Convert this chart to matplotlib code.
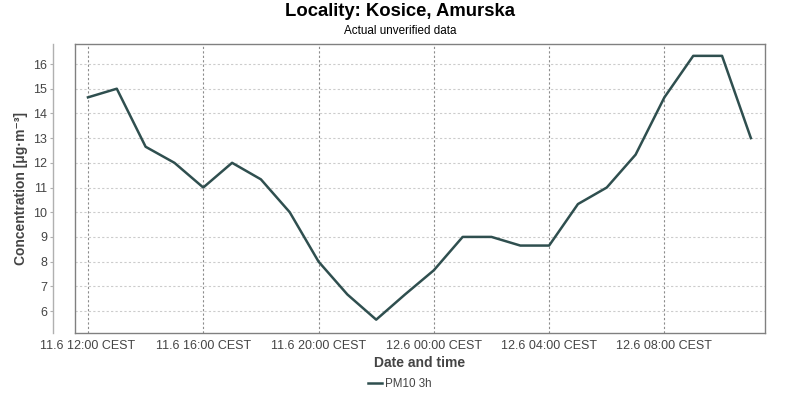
import matplotlib.pyplot as plt
from matplotlib.lines import Line2D

plt.rcParams["font.family"] = ["Liberation Sans", "DejaVu Sans"]

# hours after 11.6 12:00 CEST
hours = list(range(24))
pm10 = [14.65, 15.0, 12.65, 12.0, 11.0, 12.0, 11.33, 10.0, 8.0, 6.67, 5.65, 6.67,
        7.65, 9.0, 9.0, 8.65, 8.65, 10.33, 11.0, 12.33, 14.65, 16.33, 16.33, 13.0]
tick_hours = [0, 4, 8, 12, 16, 20]
tick_labels = ["11.6 12:00 CEST", "11.6 16:00 CEST", "11.6 20:00 CEST",
               "12.6 00:00 CEST", "12.6 04:00 CEST", "12.6 08:00 CEST"]
y_ticks = list(range(6, 17))

fig = plt.figure(figsize=(8, 4), dpi=100)
ax = fig.add_axes([75 / 800, 1 - 333 / 400, 690 / 800, 289 / 400])

ax.plot(hours, pm10, color="#2f4f4f", linewidth=1.8, label="PM10 3h")

ax.set_xlim(-0.45, 23.49)
ax.set_ylim(5.11, 16.81)
ax.set_xticks(tick_hours)
ax.set_xticklabels(tick_labels)
ax.set_yticks(y_ticks)

ax.grid(axis="y", color="#cccccc", linestyle=(0, (2, 2)), linewidth=0.8)
ax.grid(axis="x", color="#8c8c8c", linestyle=(0, (2, 2)), linewidth=0.8)
ax.set_axisbelow(True)

for s in ax.spines.values():
    s.set_color("#808080")
    s.set_linewidth(1.0)

# y axis drawn apart from the plot box, as in the reference
ax.spines["left"].set_position(("outward", 16))
ax.spines["left"].set_color("#b0b0b0")
ax.add_line(Line2D([0, 0], [0, 1], transform=ax.transAxes,
                   color="#808080", linewidth=1.0, clip_on=False))

ax.tick_params(axis="x", length=0, pad=5, labelsize=9, labelcolor="#444444")
ax.tick_params(axis="y", length=2, width=0.8, color="#b0b0b0", pad=2,
               labelsize=9, labelcolor="#444444")

ax.set_ylabel("Concentration [μg·m⁻³]", fontsize=10, fontweight="bold",
              color="#444444", labelpad=4)
ax.set_xlabel("Date and time", fontsize=10, fontweight="bold",
              color="#444444", labelpad=3)

fig.text(0.5, 1 - 12 / 400, "Locality: Kosice, Amurska", ha="center", va="center",
         fontsize=13.3, fontweight="bold", color="black")
fig.text(0.5, 1 - 31 / 400, "Actual unverified data", ha="center", va="center",
         fontsize=8.4, color="black")

fig.legend(loc="center", bbox_to_anchor=(0.5, 1 - 384 / 400), frameon=False,
           fontsize=8.4, handlelength=1.2, handletextpad=0.3, labelcolor="#444444")

fig.savefig("out.png", dpi=100)
